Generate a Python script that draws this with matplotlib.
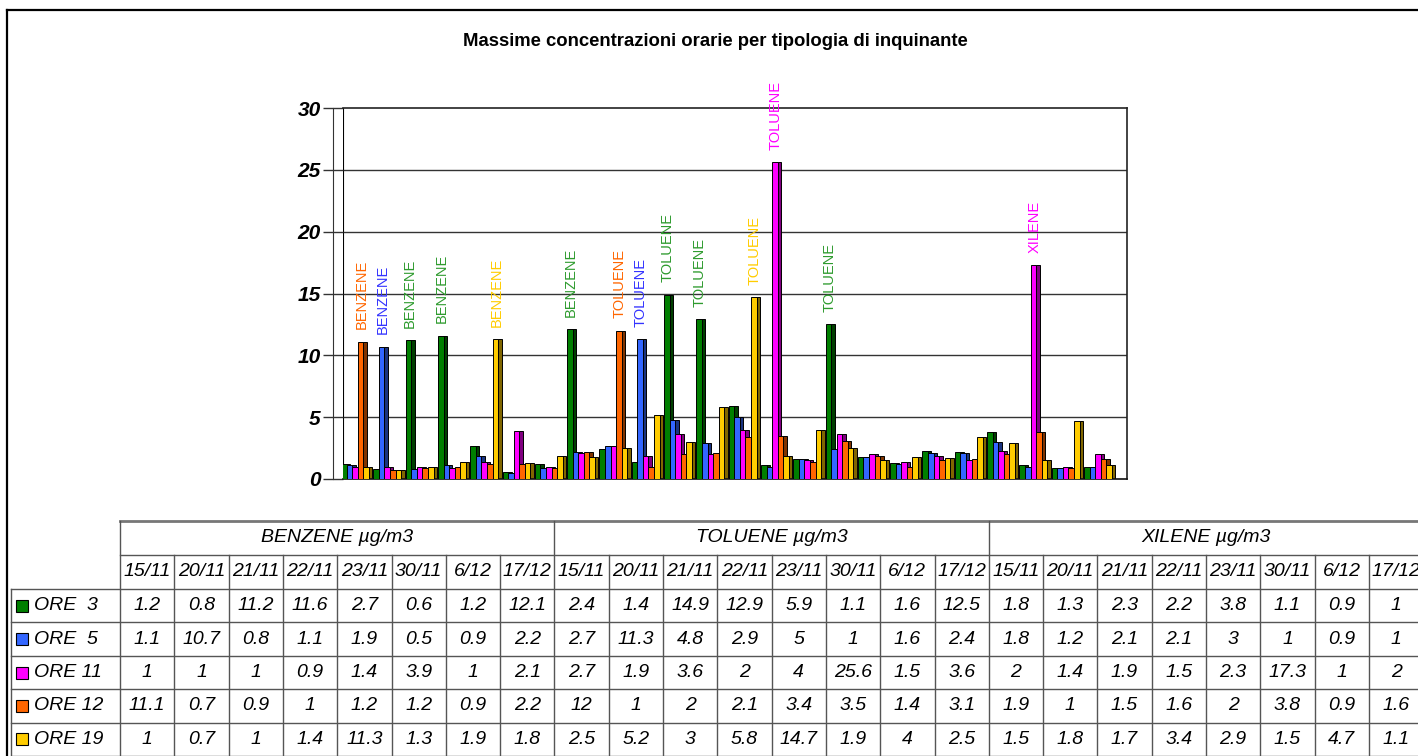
import matplotlib
matplotlib.use('Agg')
import matplotlib.pyplot as plt
import numpy as np

plt.rcParams['font.family'] = ['Liberation Sans', 'DejaVu Sans']

# data
pollutants = ['BENZENE', 'TOLUENE', 'XILENE']
dates = ['15/11', '20/11', '21/11', '22/11', '23/11', '30/11', '6/12', '17/12']
series_names = ['ORE  3', 'ORE  5', 'ORE 11', 'ORE 12', 'ORE 19']

ore3 = [1.2, 0.8, 11.2, 11.6, 2.7, 0.6, 1.2, 12.1,
        2.4, 1.4, 14.9, 12.9, 5.9, 1.1, 1.6, 12.5,
        1.8, 1.3, 2.3, 2.2, 3.8, 1.1, 0.9, 1]
ore5 = [1.1, 10.7, 0.8, 1.1, 1.9, 0.5, 0.9, 2.2,
        2.7, 11.3, 4.8, 2.9, 5, 1, 1.6, 2.4,
        1.8, 1.2, 2.1, 2.1, 3, 1, 0.9, 1]
ore11 = [1, 1, 1, 0.9, 1.4, 3.9, 1, 2.1,
         2.7, 1.9, 3.6, 2, 4, 25.6, 1.5, 3.6,
         2, 1.4, 1.9, 1.5, 2.3, 17.3, 1, 2]
ore12 = [11.1, 0.7, 0.9, 1, 1.2, 1.2, 0.9, 2.2,
         12, 1, 2, 2.1, 3.4, 3.5, 1.4, 3.1,
         1.9, 1, 1.5, 1.6, 2, 3.8, 0.9, 1.6]
ore19 = [1, 0.7, 1, 1.4, 11.3, 1.3, 1.9, 1.8,
         2.5, 5.2, 3, 5.8, 14.7, 1.9, 4, 2.5,
         1.5, 1.8, 1.7, 3.4, 2.9, 1.5, 4.7, 1.1]

series = [ore3, ore5, ore11, ore12, ore19]
front_colors = ['#007f00', '#3366ff', '#ff00ff', '#ff6600', '#ffcc00']
side_colors = ['#003f00', '#1a3380', '#800080', '#803300', '#806600']
label_colors = ['#2e9b2e', '#3333ff', '#ff00ff', '#ff6600', '#ffcc00']

W, H = 1418, 756
fig = plt.figure(figsize=(W / 100, H / 100), dpi=100)


def box(l, t, r, b):
    return [l / W, 1 - b / H, (r - l) / W, (b - t) / H]


# ---- chart ----
ax = fig.add_axes(box(343, 108, 1127, 479))
n = len(ore3)
x = np.arange(n)
slot = 0.173
side_w = 0.115

for k, vals in enumerate(series):
    pos = x + (k - 2) * slot
    ax.bar(pos + slot / 2 + side_w / 2 - 0.01, vals, width=side_w,
           color=side_colors[k], edgecolor='black', linewidth=0.7, zorder=2 + k * 0.01)
for k, vals in enumerate(series):
    pos = x + (k - 2) * slot
    ax.bar(pos, vals, width=slot, color=front_colors[k],
           edgecolor='black', linewidth=0.7, zorder=3 + k * 0.01)

# pollutant name above peaks over 10
data = np.array(series)
for g in range(n):
    k = int(np.argmax(data[:, g]))
    v = data[k, g]
    if v > 10:
        ax.annotate(pollutants[g // 8], (g + (k - 2) * slot + 0.03, v),
                    xytext=(0, 9), textcoords='offset points',
                    rotation=90, ha='center', va='bottom', fontsize=10.5,
                    color=label_colors[k], annotation_clip=False, zorder=6)

ax.set_xlim(-0.371, 23.9)
ax.set_ylim(0, 30)
ax.set_yticks([0, 5, 10, 15, 20, 25, 30])
for t in [5, 10, 15, 20, 25]:
    ax.axhline(t, color='#333333', lw=1.0, zorder=1)
ax.set_xticks([])
ax.spines['left'].set_position(('outward', 7.2))
ax.spines['left'].set_color('#333333')
ax.spines['top'].set_color('#222222')
ax.spines['right'].set_color('#222222')
ax.spines['bottom'].set_color('#111111')
for s in ['top', 'right', 'bottom']:
    ax.spines[s].set_linewidth(1.2)
ax.axvline(-0.371, color='black', lw=0.8, zorder=1)
ax.tick_params(axis='y', direction='inout', length=14.4, width=1.0, color='#333333',
               pad=1.5)
for lab in ax.get_yticklabels():
    lab.set_fontsize(15)
    lab.set_fontweight('bold')
    lab.set_fontstyle('italic')

fig.text(715 / W, 1 - 42 / H, 'Massime concentrazioni orarie per tipologia di inquinante',
         ha='center', va='center', fontsize=13.3, fontweight='bold')

# ---- data table ----
tb = fig.add_axes([0, 0, 1, 1], zorder=-1)
tb.set_xlim(0, W)
tb.set_ylim(H, 0)
tb.axis('off')

# outer frame
tb.plot([7, W + 5], [10, 10], color='black', lw=1.6)
tb.plot([7, 7], [10, H + 5], color='black', lw=1.6)

x0 = 120
cw = 54.3
rh = 33.4
line_c = '#555555'
ncol = len(dates) * len(pollutants)
right = x0 + ncol * cw

tb.plot([x0, right], [521, 521], color='#777777', lw=2)
tb.plot([x0, right], [555, 555], color=line_c, lw=1)
tb.plot([11, right], [589, 589], color=line_c, lw=1)
for r in range(1, 6):
    y = 589 + r * rh
    tb.plot([11, right], [y, y], color=line_c, lw=1)
tb.plot([11, 11], [589, H + 5], color=line_c, lw=1)
for c in range(ncol + 1):
    top = 521 if c % 8 == 0 else 555
    tb.plot([x0 + c * cw, x0 + c * cw], [top, H + 5], color=line_c, lw=1)

fs = 14
for p, name in enumerate(pollutants):
    cx = x0 + (p * 8 + 4) * cw
    tb.text(cx, 538, name + ' µg/m3', ha='center', va='center',
            fontsize=fs, fontstyle='italic')
    for d, dt in enumerate(dates):
        tb.text(x0 + (p * 8 + d + 0.5) * cw, 572, dt, ha='center', va='center',
                fontsize=fs, fontstyle='italic')

for k, vals in enumerate(series):
    yc = 589 + (k + 0.5) * rh
    tb.plot([22], [yc], marker='s', markersize=8, color=front_colors[k],
            markeredgecolor='black', markeredgewidth=0.8)
    tb.text(34, yc, series_names[k], ha='left', va='center', fontsize=fs,
            fontstyle='italic')
    for c, v in enumerate(vals):
        tb.text(x0 + (c + 0.5) * cw, yc, f'{v:g}', ha='center', va='center',
                fontsize=fs, fontstyle='italic')

fig.savefig('out.png', dpi=100)
